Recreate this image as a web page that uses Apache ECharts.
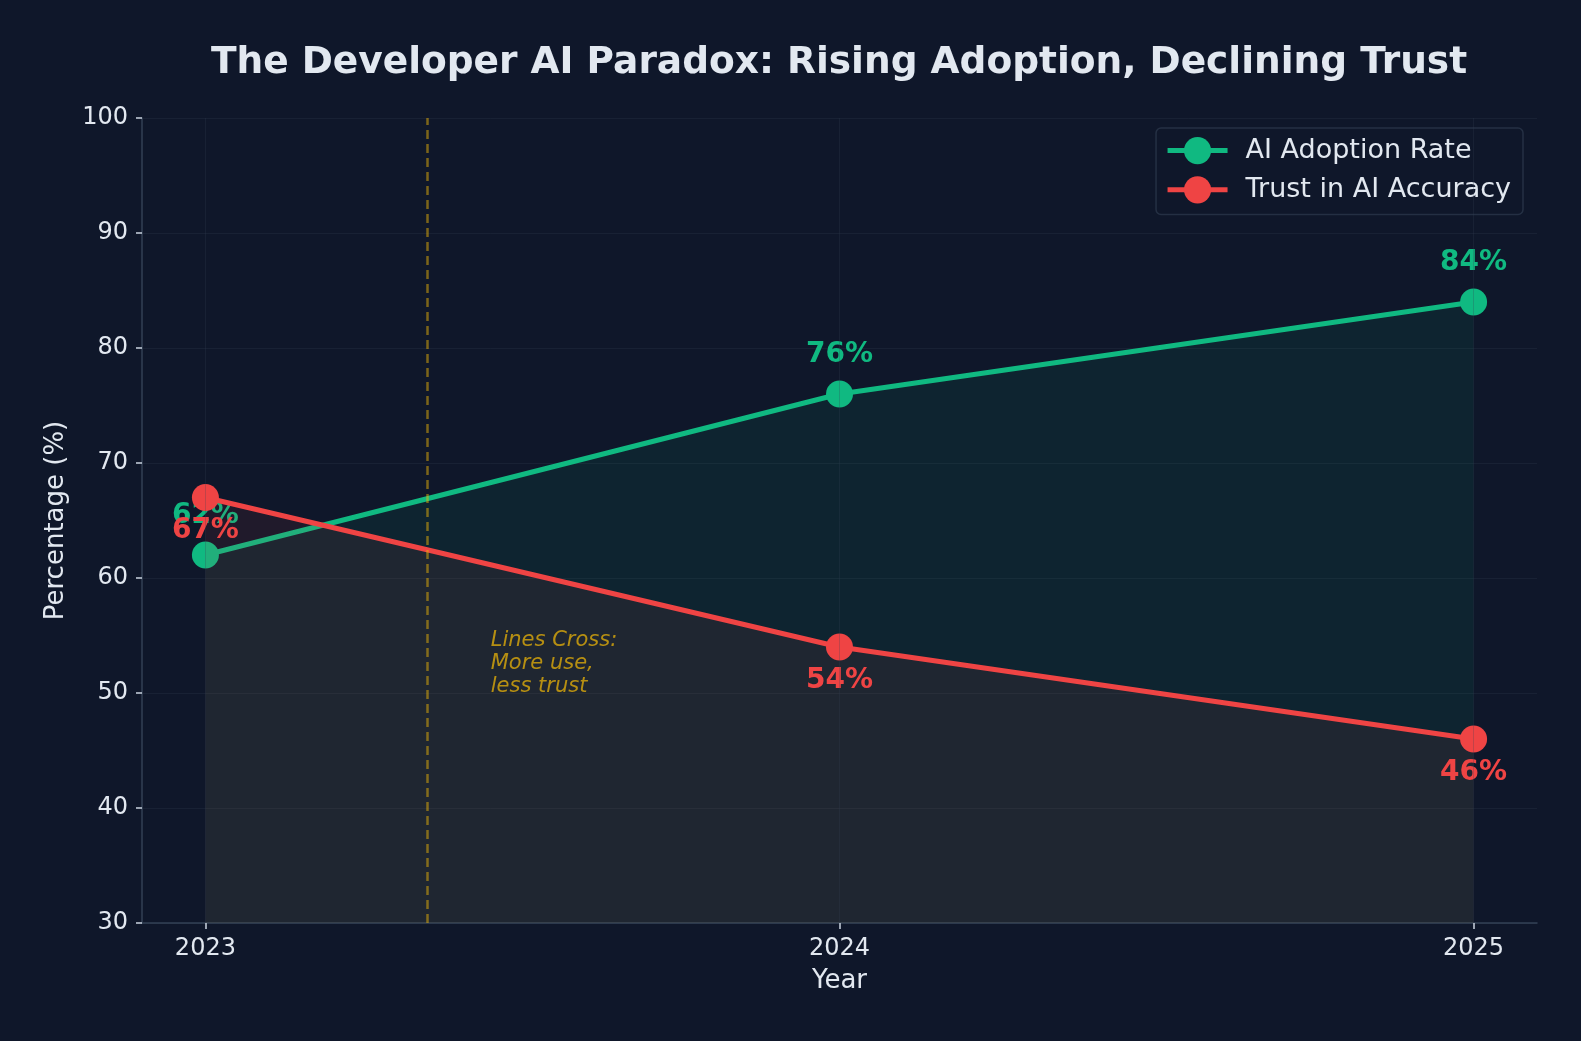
<!DOCTYPE html>
<html>
<head>
<meta charset="utf-8">
<title>The Developer AI Paradox</title>
<script src="https://cdn.jsdelivr.net/npm/echarts@6/dist/echarts.min.js"></script>
<style>
  html, body { margin: 0; padding: 0; background: #0f172a; }
  #main { width: 1581px; height: 1041px; }
</style>
</head>
<body>
<div id="main"></div>
<script>
// data
let years = [2023, 2024, 2025];
let adoption = [62, 76, 84];
let trust = [67, 54, 46];
let yTicks = [30, 40, 50, 60, 70, 80, 90, 100];

// annotation: dashed marker and note
let crossYear = 2023.35;
let notePoint = [2023.45, 50];
let noteText = 'Lines Cross:\nMore use,\nless trust';

let textColor = '#e2e8f0';
let green = '#10b981';
let red = '#ef4444';
let gold = '#eab308';
let font = '"DejaVu Sans", sans-serif';

let chartDom = document.getElementById('main');
let myChart = echarts.init(chartDom, null, { renderer: 'canvas' });

let pairs = (vals) => years.map((y, i) => [y, vals[i]]);

let option = {
    backgroundColor: '#0f172a',
    textStyle: { fontFamily: font },
    animation: false,
    title: {
        text: 'The Developer AI Paradox: Rising Adoption, Declining Trust',
        left: 834,
        textAlign: 'center',
        top: 39,
        textStyle: { color: textColor, fontSize: 37.5, fontWeight: 'bold', fontFamily: font }
    },
    legend: {
        right: 58,
        top: 128,
        orient: 'vertical',
        data: ['AI Adoption Rate', 'Trust in AI Accuracy'],
        itemWidth: 60,
        itemHeight: 34,
        itemGap: 12,
        padding: [9, 12, 11, 9],
        backgroundColor: '#0f172a',
        borderColor: 'rgba(51,65,85,0.6)',
        borderWidth: 1.5,
        borderRadius: 5,
        lineStyle: { width: 5 },
        textStyle: { color: textColor, fontSize: 27, fontFamily: font, padding: [0, 0, 0, 13] }
    },
    grid: { left: 142, right: 44, top: 118, bottom: 118 },
    xAxis: {
        type: 'value',
        min: 2022.9,
        max: 2025.1,
        name: 'Year',
        nameLocation: 'middle',
        nameGap: 45,
        nameTextStyle: { color: textColor, fontSize: 26, fontFamily: font },
        axisLine: { show: true, lineStyle: { color: '#334155', width: 1.5 } },
        axisTick: { show: true, customValues: years, length: 6, lineStyle: { color: '#cbd5e1', width: 1.5 } },
        axisLabel: {
            customValues: years,
            formatter: v => String(v),
            margin: 14,
            color: textColor,
            fontSize: 24,
            fontFamily: font
        },
        splitLine: { show: false }
    },
    yAxis: {
        type: 'value',
        min: 30,
        max: 100,
        interval: 10,
        name: 'Percentage (%)',
        nameLocation: 'middle',
        nameGap: 73,
        nameTextStyle: { color: textColor, fontSize: 26, fontFamily: font },
        axisLine: { show: true, lineStyle: { color: '#334155', width: 1.5 } },
        axisTick: { show: true, length: 6, lineStyle: { color: '#cbd5e1', width: 1.5 } },
        axisLabel: { margin: 14, color: textColor, fontSize: 24, fontFamily: font },
        splitLine: { show: true, lineStyle: { color: 'rgba(51,65,85,0.25)', width: 1 } }
    },
    series: [
        {
            // faint vertical grid lines under the fills
            type: 'line',
            z: 1,
            data: [],
            silent: true,
            markLine: {
                silent: true,
                symbol: ['none', 'none'],
                label: { show: false },
                lineStyle: { color: 'rgba(51,65,85,0.25)', width: 1, type: 'solid' },
                data: years.map(y => ({ xAxis: y }))
            }
        },
        {
            name: 'AI Adoption Rate',
            type: 'line',
            z: 3,
            data: pairs(adoption),
            symbol: 'circle',
            symbolSize: 27,
            lineStyle: { color: green, width: 5 },
            itemStyle: { color: green },
            areaStyle: { color: 'rgba(16,185,129,0.11)', origin: 'start' },
            label: {
                show: true,
                position: 'top',
                distance: 12,
                formatter: p => p.value[1] + '%',
                color: green,
                fontSize: 28,
                fontWeight: 'bold',
                fontFamily: font
            },
            markLine: {
                silent: true,
                symbol: ['none', 'none'],
                label: { show: false },
                lineStyle: { color: gold, opacity: 0.5, width: 2.5, type: [9, 5] },
                data: [{ xAxis: crossYear }]
            }
        },
        {
            name: 'Trust in AI Accuracy',
            type: 'line',
            z: 4,
            data: pairs(trust),
            symbol: 'circle',
            symbolSize: 27,
            lineStyle: { color: red, width: 5 },
            itemStyle: { color: red },
            areaStyle: { color: 'rgba(239,68,68,0.11)', origin: 'start' },
            label: {
                show: true,
                position: 'bottom',
                distance: 6,
                formatter: p => p.value[1] + '%',
                color: red,
                fontSize: 28,
                fontWeight: 'bold',
                fontFamily: font
            }
        },
        {
            type: 'scatter',
            z: 5,
            silent: true,
            symbolSize: 0,
            data: [notePoint],
            label: {
                show: true,
                position: [0, 0],
                align: 'left',
                verticalAlign: 'bottom',
                offset: [0, 5],
                formatter: noteText,
                color: gold,
                opacity: 0.75,
                fontSize: 21,
                lineHeight: 23,
                fontStyle: 'italic',
                fontFamily: font
            }
        }
    ]
};

option && myChart.setOption(option);
</script>
</body>
</html>
